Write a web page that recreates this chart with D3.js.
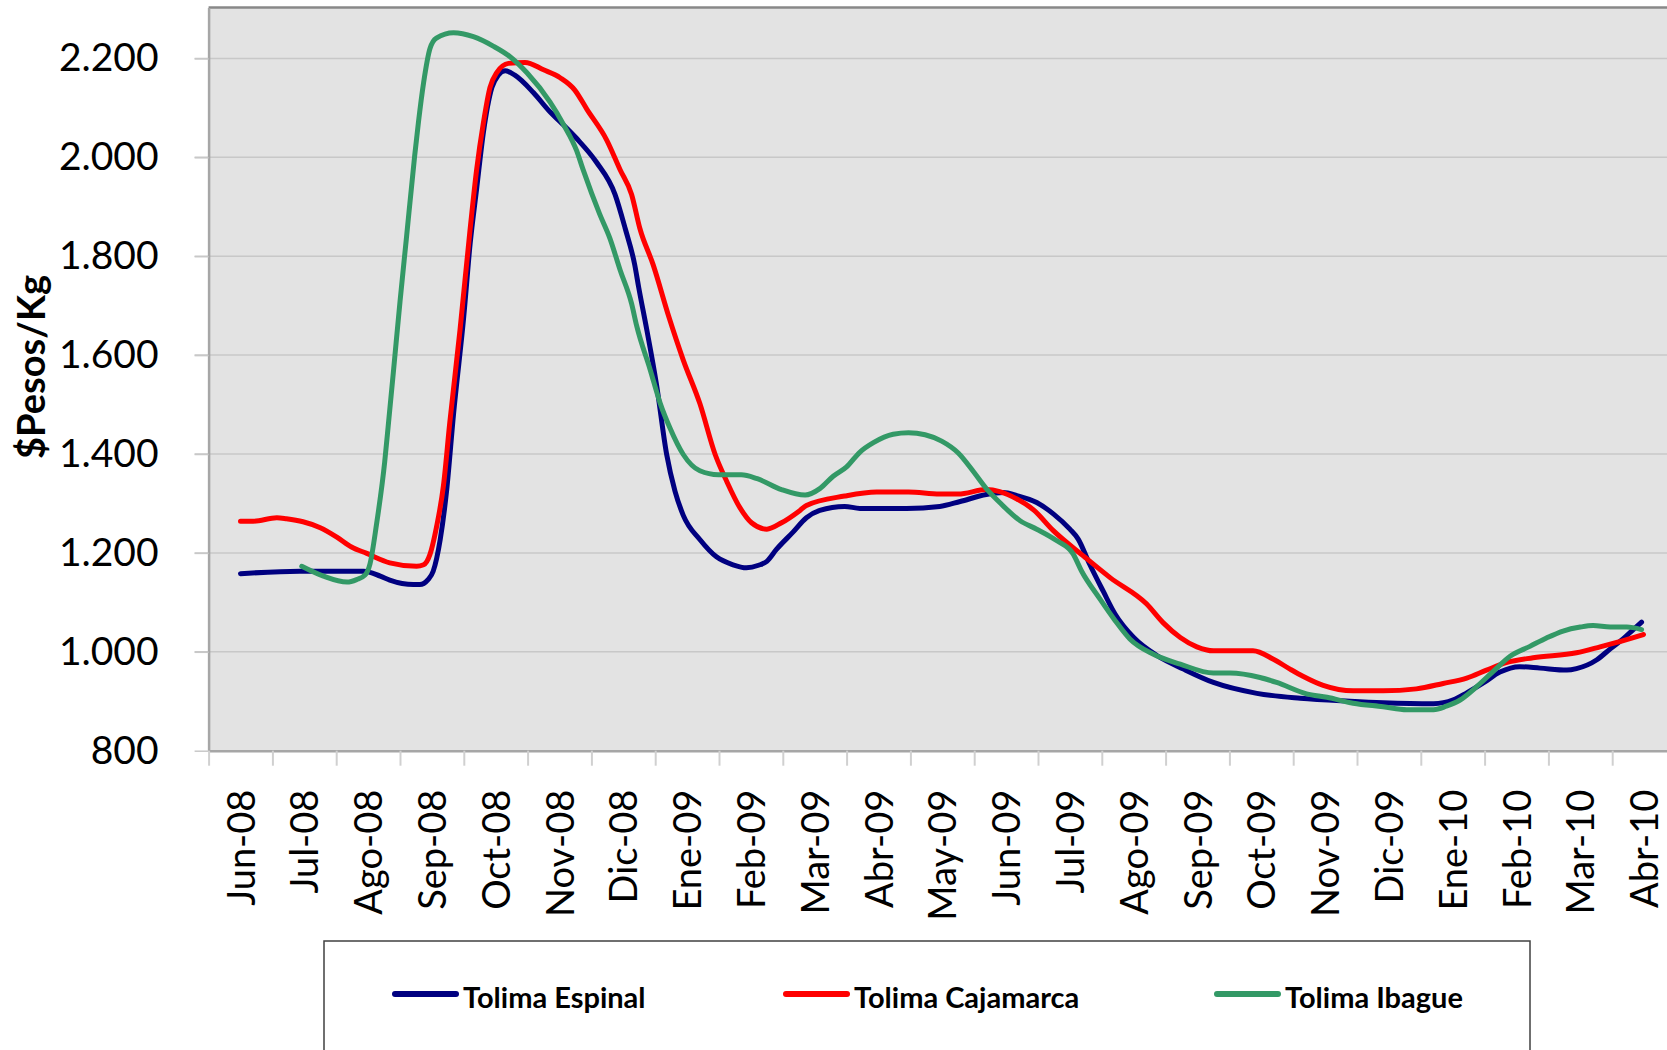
<!DOCTYPE html>
<html>
<head>
<meta charset="utf-8">
<script src="https://cdn.jsdelivr.net/npm/d3@7/dist/d3.min.js"></script>
<style>
  body { margin: 0; background: #fff; }
  svg { display: block; font-family: Lato, "Noto Sans", sans-serif; }
</style>
</head>
<body>
<svg width="1667" height="1050"></svg>
<script>
// month categories on the x axis
const months = [
  "Jun-08", "Jul-08", "Ago-08", "Sep-08", "Oct-08", "Nov-08", "Dic-08",
  "Ene-09", "Feb-09", "Mar-09", "Abr-09", "May-09", "Jun-09", "Jul-09",
  "Ago-09", "Sep-09", "Oct-09", "Nov-09", "Dic-09", "Ene-10", "Feb-10",
  "Mar-10", "Abr-10",
];

const yTicks = [800, 1000, 1200, 1400, 1600, 1800, 2000, 2200];

// [month position (0 = Jun-08), $/kg]
const espinal = [
  [0, 1158], [0.93, 1163], [1.93, 1163], [2.19, 1153], [2.34, 1145], [2.71, 1136],
  [2.81, 1136], [2.94, 1146], [3.02, 1163], [3.13, 1227], [3.23, 1325], [3.34, 1482],
  [3.5, 1679], [3.6, 1826], [3.7, 1935], [3.81, 2053], [3.94, 2141], [4.04, 2166],
  [4.15, 2175], [4.3, 2166], [4.59, 2131], [4.85, 2092], [5.01, 2072], [5.27, 2038],
  [5.58, 1990], [5.87, 1925], [6.03, 1856], [6.18, 1782], [6.24, 1738], [6.37, 1650],
  [6.52, 1541], [6.68, 1399], [6.81, 1325], [6.94, 1276], [7.2, 1227], [7.46, 1192],
  [7.72, 1176], [7.93, 1170], [8.12, 1175], [8.25, 1183], [8.4, 1207], [8.66, 1242],
  [8.87, 1271], [9.08, 1286], [9.47, 1294], [9.71, 1290], [10.44, 1290], [10.96, 1294],
  [11.28, 1304], [11.69, 1318], [11.96, 1322], [12.17, 1316], [12.48, 1302], [12.74, 1279],
  [13.0, 1248], [13.13, 1228], [13.31, 1177], [13.52, 1123], [13.71, 1076], [14.0, 1029],
  [14.37, 992], [14.78, 965], [15.25, 938], [15.93, 916], [16.61, 906], [17.39, 900],
  [17.91, 897], [18.7, 895], [19.01, 903], [19.22, 917], [19.48, 937], [19.74, 959],
  [20.05, 970], [20.37, 967], [20.79, 963], [20.94, 966], [21.26, 984], [21.47, 1006],
  [21.67, 1026], [21.83, 1045], [21.96, 1060],
];

const cajamarca = [
  [0, 1264], [0.2, 1264], [0.57, 1271], [0.72, 1269], [0.98, 1263], [1.25, 1251],
  [1.51, 1232], [1.74, 1212], [1.98, 1199], [2.34, 1180], [2.76, 1173], [2.87, 1176],
  [2.97, 1197], [3.07, 1251], [3.18, 1335], [3.28, 1463], [3.44, 1650], [3.6, 1856],
  [3.7, 1974], [3.81, 2072], [3.91, 2141], [4.02, 2172], [4.2, 2190], [4.46, 2192],
  [4.75, 2177], [5.01, 2161], [5.24, 2136], [5.43, 2097], [5.74, 2035], [5.95, 1975],
  [6.13, 1925], [6.26, 1856], [6.47, 1782], [6.71, 1679], [6.94, 1590], [7.2, 1502],
  [7.44, 1399], [7.62, 1345], [7.83, 1291], [8.01, 1261], [8.25, 1248], [8.48, 1261],
  [8.77, 1286], [8.87, 1296], [9.47, 1315], [9.97, 1323], [10.47, 1323], [10.96, 1319],
  [11.25, 1319], [11.69, 1328], [11.9, 1324], [12.17, 1309], [12.43, 1287], [12.74, 1245],
  [13.21, 1194], [13.63, 1150], [14.2, 1097], [14.46, 1059], [14.73, 1029], [14.99, 1010],
  [15.25, 1002], [15.87, 1002], [16.19, 985], [16.45, 965], [16.66, 950], [16.97, 932],
  [17.44, 921], [17.91, 921], [18.43, 925], [18.85, 936], [19.22, 947], [19.53, 963],
  [19.84, 978], [20.26, 988], [20.94, 998], [21.31, 1010], [21.57, 1019], [21.99, 1035],
];

const ibague = [
  [0.96, 1173], [1.3, 1153], [1.67, 1141], [1.82, 1146], [1.95, 1155], [2.03, 1178],
  [2.13, 1256], [2.26, 1384], [2.32, 1463], [2.4, 1571], [2.5, 1708], [2.6, 1836],
  [2.73, 2003], [2.79, 2072], [2.87, 2151], [2.97, 2220], [3.07, 2241], [3.34, 2252],
  [3.65, 2244], [3.96, 2225], [4.23, 2203], [4.49, 2171], [4.85, 2112], [5.06, 2067],
  [5.27, 2013], [5.37, 1975], [5.63, 1885], [5.79, 1836], [5.95, 1772], [6.13, 1704],
  [6.21, 1659], [6.42, 1571], [6.58, 1502], [6.73, 1453], [6.94, 1399], [7.2, 1366],
  [7.49, 1358], [7.85, 1358], [8.1, 1350], [8.48, 1328], [8.85, 1317], [9.08, 1330],
  [9.29, 1355], [9.5, 1374], [9.71, 1404], [9.92, 1423], [10.23, 1440], [10.47, 1443],
  [10.73, 1439], [10.99, 1426], [11.25, 1402], [11.49, 1364], [11.69, 1330], [11.9, 1302],
  [12.22, 1265], [12.48, 1248], [12.79, 1225], [13.05, 1198], [13.18, 1164], [13.47, 1107],
  [13.71, 1063], [13.94, 1026], [14.31, 995], [14.73, 975], [15.25, 957], [15.51, 957],
  [15.98, 948], [16.24, 938], [16.71, 915], [17.03, 908], [17.44, 896], [17.91, 889],
  [18.28, 883], [18.7, 883], [18.9, 890], [19.11, 902], [19.38, 930], [19.64, 961],
  [19.9, 991], [20.21, 1011], [20.47, 1028], [20.73, 1042], [21.0, 1050], [21.2, 1053],
  [21.47, 1050], [21.73, 1050], [21.96, 1045],
];

const seriesNames = ["Tolima Espinal", "Tolima Cajamarca", "Tolima Ibague"];
const seriesColors = ["#000080", "#ff0000", "#339966"];
const seriesData = [espinal, cajamarca, ibague];

const svg = d3.select("svg");

const plot = { left: 208.6, right: 1676, top: 7.5, bottom: 750.7 };

const xScale = d3
  .scaleLinear()
  .domain([-0.5, months.length - 0.5])
  .range([plot.left, plot.right]);

const yScale = d3
  .scaleLinear()
  .domain([800, 2303])
  .range([plot.bottom, plot.top]);

const esFormat = d3.formatLocale({
  decimal: ",",
  thousands: ".",
  grouping: [3],
  currency: ["$", ""],
}).format(",");

// plot background
svg.append("rect")
  .attr("x", plot.left)
  .attr("y", plot.top)
  .attr("width", plot.right - plot.left)
  .attr("height", plot.bottom - plot.top)
  .attr("fill", "#e3e3e3");

// horizontal gridlines
svg.append("g")
  .selectAll("line")
  .data(yTicks.filter((d) => d > 800))
  .join("line")
  .attr("x1", plot.left - 14)
  .attr("x2", plot.right)
  .attr("y1", (d) => yScale(d))
  .attr("y2", (d) => yScale(d))
  .attr("stroke", "#c8c8c8")
  .attr("stroke-width", 1.5);

// top border
svg.append("line")
  .attr("x1", plot.left)
  .attr("x2", plot.right)
  .attr("y1", plot.top)
  .attr("y2", plot.top)
  .attr("stroke", "#888")
  .attr("stroke-width", 2.5);

// y axis
const yAxis = d3.axisLeft(yScale)
  .tickValues(yTicks)
  .tickSize(14)
  .tickSizeOuter(0)
  .tickPadding(36)
  .tickFormat(esFormat);

const gy = svg.append("g")
  .attr("transform", `translate(${plot.left}, 0)`)
  .call(yAxis);
gy.select(".domain").attr("stroke", "#a6a6a6").attr("stroke-width", 2.5);
gy.selectAll(".tick line").attr("stroke", "#c8c8c8").attr("stroke-width", 1.5);
gy.selectAll(".tick text")
  .attr("font-family", "Lato")
  .attr("font-size", 39)
  .attr("fill", "#000");

// x axis: tick marks between months
const xAxis = d3.axisBottom(xScale)
  .tickValues(d3.range(months.length + 1).map((i) => i - 0.5))
  .tickSize(15)
  .tickSizeOuter(0)
  .tickFormat("");

const gx = svg.append("g")
  .attr("transform", `translate(0, ${plot.bottom})`)
  .call(xAxis);
gx.select(".domain").attr("stroke", "#a6a6a6").attr("stroke-width", 2.5);
gx.selectAll(".tick line").attr("stroke", "#d0d0d0").attr("stroke-width", 2);

// month labels
const xLabels = d3.axisBottom(xScale)
  .tickValues(d3.range(months.length))
  .tickSize(0)
  .tickFormat((i) => months[i]);

const gxl = svg.append("g")
  .attr("transform", `translate(0, ${plot.bottom})`)
  .call(xLabels);
gxl.select(".domain").remove();
gxl.selectAll(".tick text")
  .attr("font-family", "Lato")
  .attr("font-size", 38)
  .attr("fill", "#000")
  .attr("transform", "rotate(-90)")
  .attr("text-anchor", "end")
  .attr("x", -39)
  .attr("y", 0)
  .attr("dy", "0.36em");

// y axis title
svg.append("text")
  .attr("transform", "translate(45, 367) rotate(-90)")
  .attr("text-anchor", "middle")
  .attr("font-family", "Lato")
  .attr("font-weight", "bold")
  .attr("font-size", 38)
  .text("$Pesos/Kg");

// series lines
const line = d3.line()
  .x((d) => xScale(d[0]))
  .y((d) => yScale(d[1]))
  .curve(d3.curveMonotoneX);

svg.append("g")
  .selectAll("path")
  .data(seriesData)
  .join("path")
  .attr("d", line)
  .attr("fill", "none")
  .attr("stroke", (d, i) => seriesColors[i])
  .attr("stroke-width", 5)
  .attr("stroke-linejoin", "round")
  .attr("stroke-linecap", "round");

// legend
svg.append("rect")
  .attr("x", 324)
  .attr("y", 941)
  .attr("width", 1206)
  .attr("height", 130)
  .attr("fill", "#fff")
  .attr("stroke", "#404040")
  .attr("stroke-width", 1.5);

const legendX = [395, 786, 1217];
const legend = svg.append("g")
  .selectAll("g")
  .data(seriesNames)
  .join("g")
  .attr("transform", (d, i) => `translate(${legendX[i]}, 994)`);

legend.append("line")
  .attr("x1", 0)
  .attr("x2", 61)
  .attr("stroke", (d, i) => seriesColors[i])
  .attr("stroke-width", 6)
  .attr("stroke-linecap", "round");

legend.append("text")
  .attr("x", 68)
  .attr("y", 14)
  .attr("font-family", "Lato")
  .attr("font-weight", "bold")
  .attr("font-size", 29)
  .text((d) => d);
</script>
</body>
</html>
